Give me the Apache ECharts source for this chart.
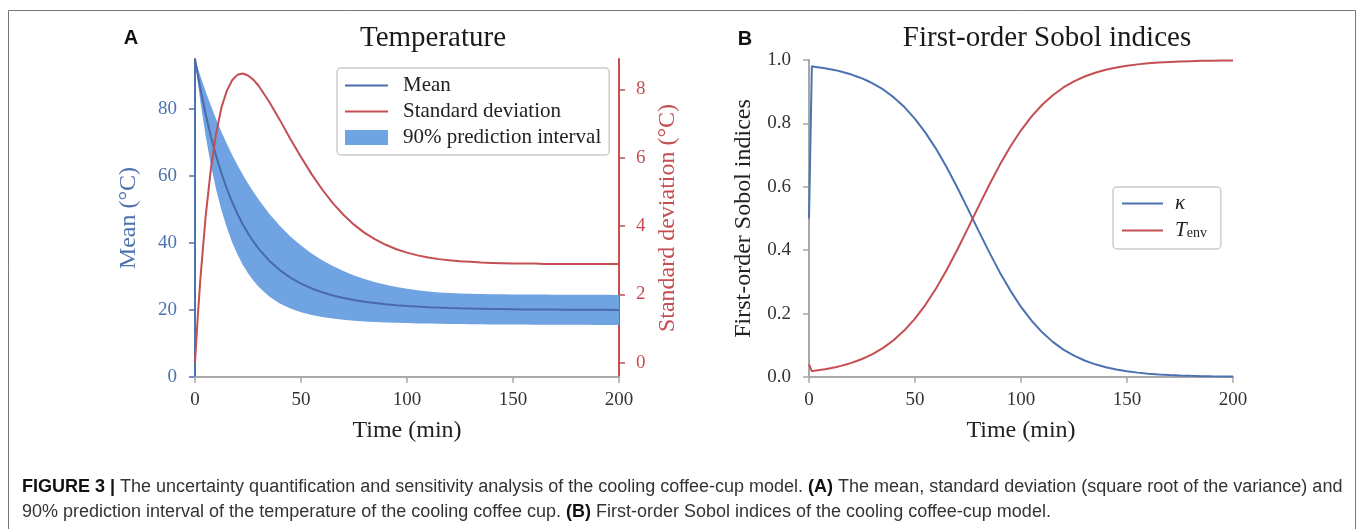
<!DOCTYPE html>
<html>
<head>
<meta charset="utf-8">
<script src="https://cdn.jsdelivr.net/npm/echarts@6/dist/echarts.min.js"></script>
<style>
  html, body { margin: 0; padding: 0; background: #fff; }
  #chart { width: 1358px; height: 529px; }
</style>
</head>
<body>
<div id="chart"></div>
<script>
// time grid (min) shared by every curve
const timeMin = [0, 1.34, 2.5, 5, 7.5, 10, 12.5, 15, 17.5, 20, 22.5, 25, 27.5,
  30, 35, 40, 45, 50, 55, 60, 65, 70, 75, 80, 85, 90, 95, 100,
  105, 110, 115, 120, 125, 130, 135, 140, 145, 150, 155, 160, 165, 170, 175, 180, 185, 190, 195, 200];

// panel A: temperature (°C)
const meanTemp = [95, 90.16, 86.23, 78.56, 71.85, 65.97, 60.80, 56.26, 52.27, 48.76, 45.65, 42.91, 40.49,
  38.35, 34.76, 31.93, 29.68, 27.89, 26.45, 25.30, 24.37, 23.61, 23.00, 22.49, 22.08, 21.74, 21.46, 21.22,
  21.03, 20.87, 20.73, 20.62, 20.53, 20.45, 20.38, 20.32, 20.28, 20.24, 20.20, 20.17, 20.15, 20.13, 20.11,
  20.09, 20.08, 20.07, 20.06, 20.05];
const upperPI = [95, 92.29, 90.02, 85.37, 81.02, 77.00, 73.22, 69.70, 66.40, 63.33, 60.46, 57.78, 55.32,
  52.99, 48.80, 45.16, 42.00, 39.28, 36.92, 34.88, 33.13, 31.63, 30.35, 29.26, 28.33, 27.55, 26.90, 26.36,
  25.92, 25.56, 25.28, 25.07, 24.93, 24.85, 24.80, 24.75, 24.71, 24.68, 24.65, 24.63, 24.61, 24.59, 24.58,
  24.57, 24.56, 24.55, 24.54, 24.53];
const lowerPI = [95, 88.05, 82.49, 72.04, 63.28, 55.94, 49.79, 44.63, 40.29, 36.64, 33.57, 30.99, 28.81,
  26.96, 24.07, 21.99, 20.48, 19.36, 18.54, 17.93, 17.46, 17.11, 16.83, 16.61, 16.44, 16.30, 16.19, 16.10,
  16.02, 15.96, 15.90, 15.86, 15.82, 15.78, 15.75, 15.72, 15.70, 15.68, 15.66, 15.64, 15.62, 15.61, 15.60,
  15.59, 15.58, 15.57, 15.56, 15.55];
const stdTemp = [0, 1.37, 2.42, 4.27, 5.68, 6.72, 7.48, 7.96, 8.27, 8.43, 8.47, 8.41, 8.29,
  8.11, 7.64, 7.11, 6.55, 6.02, 5.52, 5.07, 4.67, 4.33, 4.04, 3.80, 3.61, 3.45, 3.32, 3.22,
  3.14, 3.08, 3.03, 3.00, 2.97, 2.95, 2.93, 2.92, 2.91, 2.90, 2.90, 2.90, 2.89, 2.89, 2.89,
  2.89, 2.89, 2.89, 2.89, 2.89];

// panel B: first-order Sobol indices
const sobolKappa = [0.50, 0.980, 0.979, 0.9765, 0.974, 0.971, 0.968, 0.9635, 0.959, 0.954, 0.948, 0.942, 0.9345,
  0.926, 0.907, 0.882, 0.8515, 0.8145, 0.770, 0.719, 0.661, 0.597, 0.5295, 0.461, 0.394, 0.330, 0.2725, 0.221,
  0.1776, 0.141, 0.1108, 0.0865, 0.0672, 0.052, 0.040, 0.031, 0.0236, 0.018, 0.0138, 0.0106, 0.0081, 0.0062, 0.0047,
  0.0036, 0.0027, 0.0021, 0.0016, 0.0012];
const sobolTenv = [0.04, 0.0185, 0.0194, 0.0219, 0.0246, 0.0277, 0.0310, 0.0351, 0.0395, 0.0446, 0.0503, 0.0568, 0.0641,
  0.0724, 0.0920, 0.1167, 0.1472, 0.1844, 0.2286, 0.2802, 0.3386, 0.4022, 0.4697, 0.5384, 0.6057, 0.6692, 0.7271, 0.7782,
  0.8221, 0.8589, 0.8890, 0.9133, 0.9327, 0.9480, 0.9599, 0.9692, 0.9764, 0.9819, 0.9862, 0.9894, 0.9919, 0.9938, 0.9953,
  0.9964, 0.9973, 0.9979, 0.9984, 0.9988];

// tick labels
const meanTicks = [0, 20, 40, 60, 80];
const stdTicks = [0, 2, 4, 6, 8];

const BLUE = '#4c72b0';
const MEAN_LINE = '#4a6aa8';
const BAND = '#6fa3e2';
const RED = '#c44e52';
const SPINE = '#a8a8a8';
const INK = '#222';
const SERIF = '"Liberation Serif", "Times New Roman", serif';
const SANS = '"Liberation Sans", Arial, sans-serif';

// flat bar used as legend handle for the lines (no marker dot)
const lineIcon = w => 'path://M0,0 M' + w + ',15 M0,6.5 L' + w + ',6.5 L' + w + ',8.5 L0,8.5 Z';

const pairs = ys => timeMin.map((t, i) => [t, ys[i]]);

const tickLabel = color => ({ fontFamily: SERIF, fontSize: 19, color: color });
const nameStyle = color => ({ fontFamily: SERIF, fontSize: 24, color: color });

const xAxisBase = idx => ({
  type: 'value',
  gridIndex: idx,
  min: 0,
  max: 200,
  interval: 50,
  name: 'Time (min)',
  nameLocation: 'middle',
  nameGap: 42,
  nameTextStyle: nameStyle(INK),
  axisLine: { onZero: false, lineStyle: { color: SPINE, width: 2 } },
  axisTick: { length: 6, lineStyle: { color: SPINE, width: 1.5 } },
  axisLabel: Object.assign({ margin: 14 }, tickLabel('#333')),
  splitLine: { show: false },
});

const chart = echarts.init(document.getElementById('chart'));

const option = {
  animation: false,
  backgroundColor: '#fff',
  grid: [
    { left: 195, top: 59, width: 424, height: 318 },
    { left: 809, top: 60, width: 424, height: 317 },
  ],
  xAxis: [xAxisBase(0), xAxisBase(1)],
  yAxis: [
    {
      type: 'value',
      gridIndex: 0,
      position: 'left',
      min: 0,
      max: 95,
      name: 'Mean (°C)',
      nameLocation: 'middle',
      nameRotate: 90,
      nameGap: 54,
      nameTextStyle: nameStyle(BLUE),
      axisLine: { show: true, onZero: false, lineStyle: { color: BLUE, width: 2 } },
      axisTick: { show: true, length: 6, customValues: meanTicks, lineStyle: { color: BLUE, width: 1.5 } },
      axisLabel: Object.assign({ margin: 18, customValues: meanTicks }, tickLabel(BLUE)),
      splitLine: { show: false },
    },
    {
      type: 'value',
      gridIndex: 0,
      position: 'right',
      min: -0.424,
      max: 8.894,
      name: 'Standard deviation (°C)',
      nameLocation: 'middle',
      nameRotate: 90,
      nameGap: 37,
      nameTextStyle: nameStyle(RED),
      axisLine: { show: true, onZero: false, lineStyle: { color: RED, width: 2 } },
      axisTick: { show: true, length: 6, customValues: stdTicks, lineStyle: { color: RED, width: 1.5 } },
      axisLabel: Object.assign({ margin: 17, customValues: stdTicks }, tickLabel(RED)),
      splitLine: { show: false },
    },
    {
      type: 'value',
      gridIndex: 1,
      min: 0,
      max: 1,
      interval: 0.2,
      name: 'First-order Sobol indices',
      nameLocation: 'middle',
      nameRotate: 90,
      nameGap: 53,
      nameTextStyle: nameStyle(INK),
      axisLine: { show: true, onZero: false, lineStyle: { color: SPINE, width: 2 } },
      axisTick: { show: true, length: 6, lineStyle: { color: SPINE, width: 1.5 } },
      axisLabel: Object.assign({ margin: 18, formatter: v => v.toFixed(1) }, tickLabel('#333')),
      splitLine: { show: false },
    },
  ],
  legend: [
    {
      orient: 'vertical',
      left: 337,
      top: 68,
      padding: [7, 8, 7, 8],
      itemWidth: 43,
      itemHeight: 15,
      itemGap: 5,
      selectedMode: false,
      backgroundColor: '#fff',
      borderColor: '#cccccc',
      borderWidth: 1.5,
      borderRadius: 4,
      textStyle: { fontFamily: SERIF, fontSize: 21, color: INK, padding: [0, 0, 0, 10] },
      data: [
        { name: 'Mean', icon: lineIcon(43) },
        { name: 'Standard deviation', icon: lineIcon(43) },
        { name: '90% prediction interval', icon: 'rect' },
      ],
    },
    {
      orient: 'vertical',
      left: 1113,
      top: 187,
      padding: [6, 14, 8, 9],
      itemWidth: 41,
      itemHeight: 15,
      itemGap: 6,
      selectedMode: false,
      backgroundColor: '#fff',
      borderColor: '#cccccc',
      borderWidth: 1.5,
      borderRadius: 4,
      data: [
        { name: 'kappa', icon: lineIcon(41) },
        { name: 'Tenv', icon: lineIcon(41) },
      ],
      formatter: name => (name === 'kappa' ? '{i|κ}' : '{i|T}{s|env}'),
      textStyle: {
        padding: [0, 0, 0, 7],
        rich: {
          i: { fontFamily: SERIF, fontStyle: 'italic', fontSize: 21, lineHeight: 20, color: INK },
          s: { fontFamily: SERIF, fontSize: 14, lineHeight: 12, verticalAlign: 'bottom', color: INK },
        },
      },
    },
  ],
  series: [
    {
      name: '90% prediction interval',
      type: 'custom',
      xAxisIndex: 0,
      yAxisIndex: 0,
      z: 1,
      silent: true,
      itemStyle: { color: BAND },
      data: timeMin.map((t, i) => [t, lowerPI[i], upperPI[i]]),
      encode: { x: 0, y: [1, 2] },
      renderItem: (params, api) => {
        if (params.dataIndex !== 0) return null;
        const pts = timeMin.map((t, i) => api.coord([t, upperPI[i]]));
        for (let i = timeMin.length - 1; i >= 0; i--) pts.push(api.coord([timeMin[i], lowerPI[i]]));
        return { type: 'polygon', shape: { points: pts }, style: { fill: BAND } };
      },
    },
    {
      name: 'Mean',
      type: 'line',
      xAxisIndex: 0,
      yAxisIndex: 0,
      z: 2,
      symbol: 'none',
      lineStyle: { color: MEAN_LINE, width: 2 },
      itemStyle: { color: MEAN_LINE },
      data: pairs(meanTemp),
    },
    {
      name: 'Standard deviation',
      type: 'line',
      xAxisIndex: 0,
      yAxisIndex: 1,
      z: 3,
      symbol: 'none',
      lineStyle: { color: RED, width: 2 },
      itemStyle: { color: RED },
      data: pairs(stdTemp),
    },
    {
      name: 'kappa',
      type: 'line',
      xAxisIndex: 1,
      yAxisIndex: 2,
      symbol: 'none',
      lineStyle: { color: BLUE, width: 2 },
      itemStyle: { color: BLUE },
      data: pairs(sobolKappa),
    },
    {
      name: 'Tenv',
      type: 'line',
      xAxisIndex: 1,
      yAxisIndex: 2,
      symbol: 'none',
      lineStyle: { color: RED, width: 2 },
      itemStyle: { color: RED },
      data: pairs(sobolTenv),
    },
  ],
  graphic: [
    {
      type: 'rect',
      shape: { x: 8.5, y: 10.5, width: 1347, height: 540 },
      style: { fill: 'none', stroke: '#777', lineWidth: 1 },
      silent: true,
    },
    {
      type: 'text', x: 131, y: 38,
      style: { text: 'A', font: 'bold 20px ' + SANS, fill: '#111', align: 'center', verticalAlign: 'middle' },
    },
    {
      type: 'text', x: 745, y: 39,
      style: { text: 'B', font: 'bold 20px ' + SANS, fill: '#111', align: 'center', verticalAlign: 'middle' },
    },
    {
      type: 'text', x: 433, y: 38,
      style: { text: 'Temperature', font: '29px ' + SERIF, fill: '#1a1a1a', align: 'center', verticalAlign: 'middle' },
    },
    {
      type: 'text', x: 1047, y: 38,
      style: { text: 'First-order Sobol indices', font: '29px ' + SERIF, fill: '#1a1a1a', align: 'center', verticalAlign: 'middle' },
    },
    {
      type: 'text', x: 22, y: 487,
      style: {
        text: '{b|FIGURE 3 |} The uncertainty quantification and sensitivity analysis of the cooling coffee-cup model. {b|(A)} The mean, standard deviation (square root of the variance) and',
        font: '18px ' + SANS,
        fill: '#333',
        verticalAlign: 'middle',
        rich: { b: { fontWeight: 'bold', fontSize: 18, fontFamily: SANS, fill: '#111' } },
      },
    },
    {
      type: 'text', x: 22, y: 512,
      style: {
        text: '90% prediction interval of the temperature of the cooling coffee cup. {b|(B)} First-order Sobol indices of the cooling coffee-cup model.',
        font: '18px ' + SANS,
        fill: '#333',
        verticalAlign: 'middle',
        rich: { b: { fontWeight: 'bold', fontSize: 18, fontFamily: SANS, fill: '#111' } },
      },
    },
  ],
};

chart.setOption(option);
</script>
</body>
</html>
